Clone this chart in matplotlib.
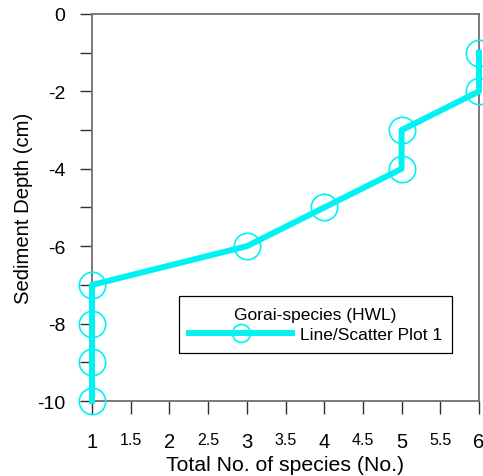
import numpy as np
import matplotlib
matplotlib.use("Agg")
import matplotlib.pyplot as plt

plt.rcParams["font.family"] = ["Liberation Sans", "DejaVu Sans"]

# data
species = [6, 6, 5, 5, 4, 3, 1, 1, 1, 1]
depth = [-1, -2, -3, -4, -5, -6, -7, -8, -9, -10]

x_major = [1, 2, 3, 4, 5, 6]
x_minor = [1.5, 2.5, 3.5, 4.5, 5.5]
y_major = [0, -2, -4, -6, -8, -10]
y_minor = [-1, -3, -5, -7, -9]

CYAN = "#00F2F2"
SPINE = "#707070"

fig = plt.figure(figsize=(4.83, 4.77), dpi=100)
ax = fig.add_axes([0.1905, 0.1572, 0.8012, 0.8114])

ax.plot(species, depth, color=CYAN, linewidth=4.3, marker="o",
        markersize=19, markerfacecolor="none", markeredgecolor=CYAN,
        markeredgewidth=1.2, clip_on=False, zorder=5,
        label="Line/Scatter Plot 1")

ax.set_xlim(1, 6)
ax.set_ylim(-10, 0)

ax.set_xticks(x_major)
ax.set_xticklabels([str(v) for v in x_major], fontsize=14.5)
ax.set_xticks(x_minor, minor=True)
ax.set_xticklabels([str(v) for v in x_minor], minor=True, fontsize=11.5)
ax.set_yticks(y_major)
ax.set_yticklabels([str(v) for v in y_major], fontsize=14)
ax.set_yticks(y_minor, minor=True)

ax.tick_params(axis="both", which="both", direction="out", length=9,
               width=1, color="#303030")
ax.tick_params(axis="x", which="both", pad=13)
ax.tick_params(axis="y", which="major", pad=10)

for s in ax.spines.values():
    s.set_color(SPINE)
    s.set_linewidth(1.3)

ax.set_xlabel("Total No. of species (No.)", fontsize=15.3, labelpad=3)
ax.set_ylabel("Sediment Depth (cm)", fontsize=14.6, labelpad=3)

leg = ax.legend(title="Gorai-species (HWL)", loc="center",
                bbox_to_anchor=(0.5775, 0.1977),
                fontsize=12.5, title_fontsize=12.5, handlelength=5.9,
                numpoints=1, markerscale=0.68, fancybox=False,
                framealpha=1, edgecolor="black", borderpad=0.6,
                labelspacing=0.3, handletextpad=0.45)
leg.get_frame().set_linewidth(0.9)

fig.savefig("out.png", dpi=100)
